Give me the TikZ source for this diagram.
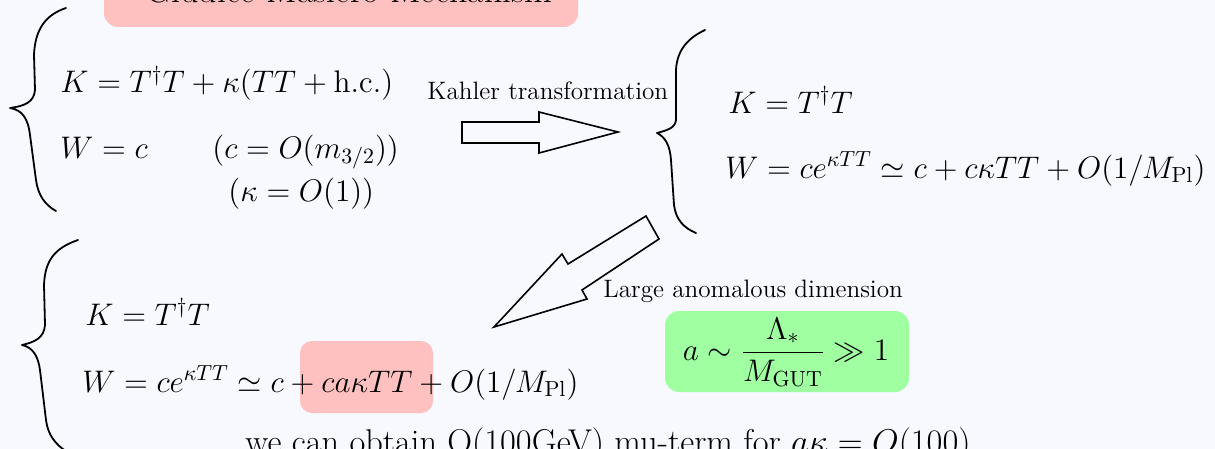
\documentclass[tikz,border=0pt]{standalone}
\usepackage{fix-cm}
\usepackage{amsmath}

\definecolor{bgpaper}{RGB}{248,248,255}
\definecolor{pinkbox}{RGB}{255,192,192}
\definecolor{greenbox}{RGB}{160,255,160}

\tikzset{
	eq/.style={anchor=base west, inner sep=0pt, font=\fontsize{15.6}{18}\selectfont},
	lbl/.style={anchor=base west, inner sep=0pt, font=\fontsize{12.6}{15}\selectfont},
	brace/.style={line width=0.9pt, line join=round, line cap=round},
	blockarrow/.style={line width=0.8pt, line join=miter, fill=bgpaper}
}

\begin{document}
\begin{tikzpicture}[x=0.5pt, y=-0.5pt]
	\fill[bgpaper] (0, 0) rectangle (1215, 449);
	\useasboundingbox (0, 0) rectangle (1215, 449);

	% title
	\fill[pinkbox, rounded corners=7pt] (104, -40) rectangle (578, 27);
	\node[eq, font=\fontsize{18}{21}\selectfont] (title) at (145, 3) {Giudice-Masiero Mechanism};

	% first set
	\draw[brace] (66, 8) .. controls (45, 15) and (35, 30) .. (34, 55) -- (35, 90)
		.. controls (34, 102) and (25, 106) .. (10, 108)
		.. controls (22, 110) and (28, 118) .. (30, 135) -- (36, 180)
		.. controls (38, 195) and (45, 205) .. (56, 211);
	\node[eq] (k1) at (60, 93) {$K = T^\dagger T + \kappa(TT + \mathrm{h.c.})$};
	\node[eq] (w1) at (60, 158) {$W = c$};
	\node[eq] (c1) at (212, 158) {$(c = O(m_{3/2}))$};
	\node[eq] (kap1) at (228, 201) {$(\kappa = O(1))$};

	% Kahler arrow
	\node[lbl] (kahler) at (427, 100) {Kahler transformation};
	\draw[blockarrow] (462, 122) -- (539, 122) -- (539, 112) -- (618, 132)
		-- (539, 153) -- (539, 143) -- (462, 143) -- cycle;

	% second set
	\draw[brace] (705, 30) .. controls (688, 38) and (677, 50) .. (676, 70) -- (676, 120)
		.. controls (675, 128) and (668, 130) .. (657, 133)
		.. controls (665, 137) and (670, 145) .. (671, 160) -- (674, 205)
		.. controls (676, 220) and (684, 228) .. (696, 233);
	\node[eq] (k2) at (728, 113) {$K = T^\dagger T$};
	\node[eq] (w2) at (725, 178) {$W = ce^{\kappa TT} \simeq c + c\kappa TT + O(1/M_{\mathrm{Pl}})$};

	% anomalous dimension arrow
	\draw[blockarrow] (494, 327) -- (562, 254) -- (568, 264) -- (646, 216)
		-- (659, 239) -- (582, 290) -- (587, 299) -- cycle;
	\node[lbl] (large) at (603, 297) {Large anomalous dimension};
	\fill[greenbox, rounded corners=7pt] (665, 311) rectangle (909, 392);
	\node[font=\fontsize{15.6}{18}\selectfont] (aest) at (786, 352) {$a \sim \dfrac{\Lambda_*}{M_{\mathrm{GUT}}} \gg 1$};

	% third set
	\draw[brace] (78, 240) .. controls (55, 248) and (45, 260) .. (44, 285) -- (45, 325)
		.. controls (44, 338) and (35, 342) .. (22, 345)
		.. controls (32, 347) and (38, 355) .. (40, 370) -- (46, 420)
		.. controls (48, 435) and (55, 444) .. (67, 452);
	\fill[pinkbox, rounded corners=6pt] (300, 341) rectangle (433, 413);
	\node[eq] (k3) at (85, 325) {$K = T^\dagger T$};
	\node[eq] (w3) at (82, 392) {$W = ce^{\kappa TT} \simeq c + ca\kappa TT + O(1/M_{\mathrm{Pl}})$};
	\node[eq, font=\fontsize{17.2}{20}\selectfont] (muterm) at (245, 453) {we can obtain O(100GeV) mu-term for $a\kappa = O(100)$};
\end{tikzpicture}
\end{document}
